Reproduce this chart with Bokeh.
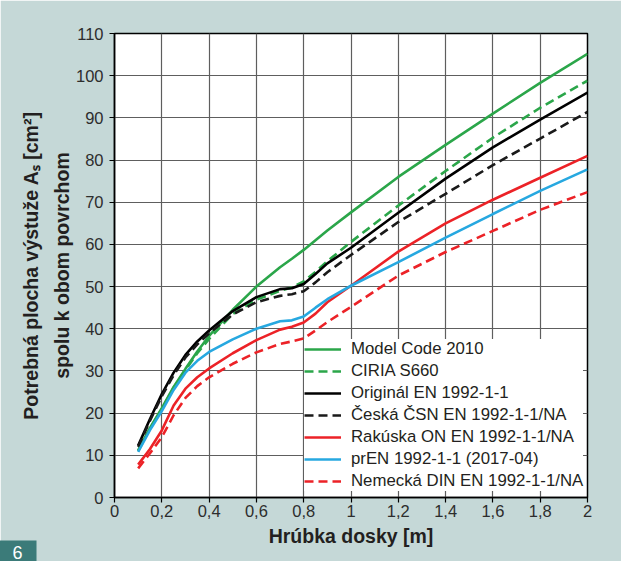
from bokeh.plotting import figure
from bokeh.embed import file_html
from bokeh.resources import INLINE
from bokeh.models import Legend, LegendItem, Title, FixedTicker, CustomJSTickFormatter

# ---- data ----
x = [0.1, 0.15, 0.2, 0.25, 0.3, 0.35, 0.4, 0.5, 0.6, 0.7, 0.75, 0.8, 0.85, 0.9, 1.0, 1.2, 1.4, 1.6, 1.8, 2.0]

model_code_2010 = [11.2, 16.5, 21.2, 26.2, 30.5, 34.6, 38.3, 44.5, 50.0, 54.6, 56.6, 58.7, 61.0, 63.3, 67.6, 76.0, 83.6, 91.0, 98.3, 105.2]
ciria_s660 = [11.0, 16.3, 21.0, 26.0, 30.2, 34.2, 37.6, 43.5, 46.9, 49.0, 49.8, 51.2, 53.5, 56.0, 60.6, 69.2, 77.4, 85.3, 92.4, 98.8]
original_en = [12.3, 18.6, 24.5, 29.6, 33.8, 37.0, 39.6, 44.2, 47.5, 49.4, 49.6, 50.6, 53.0, 55.5, 59.2, 67.5, 75.6, 83.0, 89.6, 96.0]
ceska_csn = [12.0, 18.2, 24.0, 29.0, 33.2, 36.3, 38.9, 43.4, 46.3, 47.8, 48.2, 48.9, 51.0, 53.4, 57.5, 65.3, 72.0, 78.8, 85.1, 91.4]
rakuska_on = [7.8, 11.5, 15.9, 21.8, 25.8, 28.5, 30.6, 34.2, 37.3, 39.8, 40.5, 41.5, 43.6, 46.3, 50.2, 58.3, 65.0, 70.6, 75.8, 81.0]
pren_2017 = [10.8, 16.0, 20.5, 25.5, 29.6, 32.4, 34.5, 37.5, 40.0, 41.8, 42.0, 42.9, 45.0, 47.0, 50.2, 55.8, 61.6, 67.2, 72.7, 77.8]
nemecka_din = [6.9, 10.5, 14.3, 19.5, 23.6, 26.4, 28.5, 31.7, 34.4, 36.4, 37.0, 37.7, 39.6, 41.6, 45.2, 52.6, 58.2, 63.2, 68.2, 72.4]

labels = ["Model Code 2010", "CIRIA S660", "Originál EN 1992-1-1",
          "Česká ČSN EN 1992-1-1/NA", "Rakúska ON EN 1992-1-1/NA",
          "prEN 1992-1-1 (2017-04)", "Nemecká DIN EN 1992-1-1/NA"]
x_ticks = [0, 0.2, 0.4, 0.6, 0.8, 1.0, 1.2, 1.4, 1.6, 1.8, 2.0]
y_ticks = [0, 10, 20, 30, 40, 50, 60, 70, 80, 90, 100, 110]
figure_number = "6"

# ---- styles ----
BG = "#c5d8d7"
GREEN = "#2ba64a"
RED = "#ec2227"
BLUE = "#27a8e0"
BLACK = "#000000"
DARK = "#231f20"
FONT = "Liberation Sans"

p = figure(frame_width=473, frame_height=464, x_range=(0, 2), y_range=(0, 110),
           output_backend="svg", toolbar_location=None,
           min_border_left=114, min_border_right=34, min_border_top=33, min_border_bottom=64,
           border_fill_color=BG, background_fill_color="white")
p.outline_line_color = BLACK
p.outline_line_width = 1.5

p.xaxis.ticker = FixedTicker(ticks=x_ticks)
p.yaxis.ticker = FixedTicker(ticks=y_ticks)
p.xaxis.formatter = CustomJSTickFormatter(code="return (Math.round(tick*10)/10).toString().replace('.', ',');")

for ax in (p.xaxis[0], p.yaxis[0]):
    ax.axis_line_color = BLACK
    ax.axis_line_width = 1.5
    ax.major_tick_line_color = BLACK
    ax.major_tick_line_width = 1.2
    ax.major_tick_out = 5
    ax.major_tick_in = 0
    ax.minor_tick_line_color = None
    ax.major_label_text_font = FONT
    ax.major_label_text_font_size = "16.5px"
    ax.major_label_text_color = "#2d2d2d"
    ax.axis_label_text_font = FONT
    ax.axis_label_text_font_style = "bold"
    ax.axis_label_text_font_size = "19.5px"
    ax.axis_label_text_color = DARK

p.xaxis.major_label_standoff = 2
p.xaxis.axis_label = "Hrúbka dosky [m]"
p.xaxis.axis_label_standoff = 5
p.yaxis.major_label_standoff = 6
p.yaxis.axis_label = "Potrebná plocha výstuže A\u209b [cm²]\nspolu k obom povrchom"
p.yaxis.axis_label_standoff = 0
p.yaxis.axis_label_text_line_height = 1.43

p.grid.grid_line_color = "#5e5e5e"
p.grid.grid_line_width = 1.2

series = [
    (model_code_2010, GREEN, "solid"),
    (ciria_s660, GREEN, "9 5"),
    (original_en, BLACK, "solid"),
    (ceska_csn, "#1a1a1a", "9 5"),
    (rakuska_on, RED, "solid"),
    (pren_2017, BLUE, "solid"),
    (nemecka_din, RED, "9 5"),
]
items = []
for (ys, col, dash), lab in zip(series, labels):
    r = p.line(x, ys, line_color=col, line_width=2.6, line_dash=dash)
    items.append(LegendItem(label=lab, renderers=[r]))

legend = Legend(items=items, location=(190, 6), padding=5, spacing=2, margin=0,
                label_height=20, glyph_height=20, glyph_width=37, label_standoff=10,
                label_text_font=FONT, label_text_font_size="16.8px", label_text_color=DARK,
                background_fill_color="white", background_fill_alpha=1.0,
                border_line_color=None)
p.add_layout(legend)

badge = Title(text=figure_number, align="left", vertical_align="bottom",
              offset=-116, standoff=-22,
              text_color="white", text_font=FONT, text_font_size="18px",
              text_font_style="normal",
              background_fill_color="#3b7b79", background_fill_alpha=1.0,
              padding=(14, 5))
p.add_layout(badge, "below")

open("out.html", "w").write(file_html(p, INLINE))
